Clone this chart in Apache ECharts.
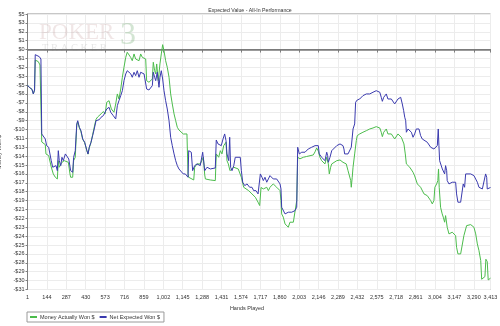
<!DOCTYPE html>
<html>
<head>
<meta charset="utf-8">
<script src="https://cdn.jsdelivr.net/npm/echarts@6/dist/echarts.min.js"></script>
<style>html,body{margin:0;padding:0;background:#fff}#c{width:500px;height:326px}</style>
</head>
<body>
<div id="c"></div>
<script>
// ---- data (hands played, dollars) ----
const moneyHands = [1,14,34,44,53,58,81,93,102,106,117,132,137,157,167,176,191,206,221,228,235,255,272,285,302,314,319,334,341,353,364,371,383,395,408,422,439,447,456,469,481,493,506,518,530,543,560,573,585,602,619,638,651,663,675,688,700,712,725,736,749,761,773,786,798,810,823,835,847,860,872,879,896,909,921,928,938,946,953,965,977,987,997,1007,1019,1031,1044,1056,1068,1081,1093,1105,1117,1130,1149,1176,1184,1189,1201,1226,1233,1243,1250,1274,1287,1297,1307,1312,1348,1385,1392,1410,1422,1434,1447,1459,1464,1471,1481,1493,1521,1532,1554,1567,1577,1594,1606,1631,1655,1680,1700,1712,1722,1739,1751,1764,1776,1788,1801,1812,1825,1837,1849,1862,1869,1874,1886,1899,1911,1923,1935,1948,1960,1972,1985,1992,2009,2034,2058,2083,2107,2120,2132,2144,2156,2169,2181,2193,2206,2218,2225,2235,2243,2255,2280,2304,2313,2326,2338,2350,2363,2375,2383,2387,2394,2400,2412,2424,2431,2449,2461,2473,2486,2498,2510,2523,2535,2547,2560,2571,2584,2597,2608,2616,2626,2633,2645,2657,2682,2694,2707,2719,2731,2744,2756,2768,2775,2785,2793,2805,2818,2830,2842,2854,2866,2874,2886,2898,2910,2923,2935,2947,2960,2972,2984,2996,3003,3016,3025,3030,3035,3045,3057,3065,3075,3082,3094,3107,3119,3131,3144,3156,3163,3173,3193,3205,3217,3230,3237,3247,3267,3279,3291,3304,3316,3328,3341,3348,3360,3372,3379,3389,3396,3409,3413];
const moneyActuallyWon = [-4.6,-4.87,-5.13,-5.73,-5.22,-1.35,-1.57,-1.99,-2.21,-11.93,-12.09,-12.27,-13.47,-13.69,-13.69,-15.15,-16.05,-16.48,-16.7,-14.34,-15.19,-14.55,-14.34,-14.55,-14.55,-16.05,-16.48,-16.48,-14.34,-13.9,-9.8,-9.3,-10.1,-10.6,-11.6,-12.0,-13.1,-13.5,-12.7,-12.0,-11.0,-10.0,-9.0,-8.7,-8.6,-8.3,-8.0,-8.3,-6.8,-6.6,-7.67,-8.09,-7.02,-5.73,-6.38,-5.09,-3.58,-2.29,-1.0,-0.35,-0.22,-1.0,-1.44,-0.57,-1.22,-1.0,-1.44,-0.57,-1.0,-0.79,-1.22,-4.02,-4.22,-4.44,-3.8,-1.64,-2.73,-3.15,-1.86,-4.02,-1.86,-0.57,0.63,-0.15,-1.44,-2.29,-3.58,-5.73,-7.02,-8.31,-9.18,-10.03,-10.38,-10.47,-10.9,-10.89,-16.05,-16.48,-16.7,-16.83,-15.19,-15.41,-14.76,-14.76,-14.98,-13.9,-16.18,-16.7,-16.83,-16.91,-13.47,-13.9,-13.05,-13.47,-12.4,-12.61,-11.96,-14.34,-14.76,-15.63,-15.19,-15.19,-15.41,-15.19,-16.48,-17.77,-17.56,-18.21,-18.63,-19.06,-19.7,-20.13,-17.8,-17.99,-18.21,-17.77,-18.21,-17.77,-17.56,-17.34,-17.56,-17.77,-17.99,-18.21,-19.49,-21.21,-21.63,-22.5,-22.28,-22.93,-22.28,-22.07,-22.28,-22.28,-19.49,-13.9,-14.1,-13.9,-13.8,-13.7,-13.6,-13.2,-12.7,-13.1,-13.9,-14.34,-14.55,-14.76,-13.9,-14.76,-16.05,-15.19,-14.76,-14.55,-14.34,-14.25,-14.34,-14.55,-14.34,-14.76,-15.63,-15.63,-16.91,-17.77,-16.48,-15.19,-13.47,-11.76,-11.11,-10.89,-10.8,-10.67,-10.59,-10.47,-10.38,-10.25,-10.25,-10.12,-10.03,-9.95,-10.03,-10.12,-10.67,-11.24,-10.67,-10.8,-10.25,-10.89,-10.89,-10.98,-11.54,-11.32,-10.89,-11.11,-11.32,-11.54,-12.18,-13.47,-14.76,-14.98,-15.19,-15.41,-15.83,-16.3,-16.48,-17.34,-17.56,-17.77,-17.99,-18.63,-18.85,-18.85,-19.06,-19.49,-19.92,-19.49,-17.77,-17.34,-16.91,-15.41,-17.77,-20.35,-21.21,-21.63,-22.28,-21.43,-22.93,-23.79,-23.79,-23.57,-23.79,-24.01,-25.51,-26.37,-26.37,-26.15,-24.01,-23.79,-22.72,-22.5,-22.59,-22.72,-22.93,-23.79,-25.08,-25.94,-27.23,-29.64,-29.73,-29.3,-27.06,-27.37,-29.73,-29.95,-29.5];

const expectedHands = [1,14,34,44,53,58,71,88,100,106,117,132,142,157,167,176,187,201,211,221,228,235,246,255,265,280,294,305,314,319,334,341,353,364,371,383,395,408,422,439,447,456,469,481,493,506,518,530,543,560,573,585,602,614,633,651,663,675,688,700,712,725,736,749,761,773,786,798,810,823,835,847,860,872,879,896,909,921,928,938,946,957,970,977,987,997,1007,1019,1031,1044,1056,1068,1081,1093,1105,1117,1130,1149,1164,1184,1189,1208,1218,1233,1243,1250,1274,1292,1299,1307,1324,1348,1385,1392,1405,1417,1429,1442,1454,1464,1471,1484,1491,1498,1508,1521,1532,1569,1577,1587,1602,1619,1638,1655,1668,1685,1700,1712,1717,1729,1739,1751,1764,1776,1788,1801,1812,1825,1837,1849,1862,1869,1874,1886,1899,1911,1923,1948,1972,1985,1992,2004,2022,2034,2046,2058,2070,2083,2095,2107,2120,2132,2144,2151,2169,2181,2193,2206,2213,2218,2230,2243,2255,2280,2304,2313,2326,2333,2338,2350,2363,2375,2387,2400,2412,2419,2431,2449,2461,2473,2486,2498,2510,2523,2535,2547,2560,2571,2584,2597,2608,2616,2626,2633,2645,2652,2657,2670,2682,2694,2707,2719,2731,2744,2751,2763,2773,2781,2788,2793,2805,2818,2830,2842,2854,2866,2878,2886,2898,2910,2923,2947,2960,2972,2984,2996,3009,3021,3028,3033,3038,3050,3058,3065,3075,3082,3090,3094,3107,3119,3131,3144,3156,3163,3173,3193,3205,3212,3222,3230,3242,3267,3279,3291,3304,3316,3328,3341,3353,3365,3377,3385,3389,3401,3413];
const netExpectedWon = [-4.6,-4.87,-5.13,-5.73,-5.22,-0.66,-0.48,-0.92,-1.22,-10.89,-11.11,-11.54,-12.4,-12.61,-12.61,-14.34,-15.19,-15.41,-14.98,-15.63,-13.05,-14.34,-14.98,-13.9,-14.34,-13.47,-13.69,-14.12,-14.34,-15.63,-15.83,-13.9,-13.05,-9.6,-9.18,-10.03,-10.47,-11.54,-11.96,-13.05,-13.47,-12.61,-11.96,-11.11,-10.25,-9.18,-8.96,-9.05,-8.74,-8.53,-8.7,-7.67,-7.45,-8.09,-8.53,-8.96,-7.24,-6.6,-5.95,-5.31,-4.02,-3.15,-2.73,-2.93,-3.11,-3.58,-2.93,-3.37,-2.73,-3.58,-2.93,-2.73,-3.15,-3.37,-5.09,-5.22,-5.39,-4.66,-2.93,-3.58,-4.02,-2.93,-4.87,-3.58,-2.73,-3.8,-5.31,-6.6,-7.67,-9.18,-11.32,-12.4,-13.47,-14.34,-14.98,-15.41,-15.63,-16.05,-16.05,-16.48,-13.05,-13.25,-15.63,-14.98,-15.19,-14.76,-14.98,-13.25,-13.47,-15.63,-15.19,-15.41,-15.28,-11.67,-12.18,-11.96,-12.4,-11.54,-10.89,-11.76,-13.47,-14.34,-11.32,-15.19,-15.63,-14.98,-13.9,-13.9,-15.63,-17.12,-17.56,-17.34,-17.77,-17.77,-18.21,-18.21,-18.63,-18.85,-16.05,-16.48,-16.91,-16.48,-17.12,-16.7,-16.27,-16.48,-16.7,-16.91,-16.7,-16.91,-17.34,-17.99,-20.35,-20.57,-21.21,-21.43,-20.99,-20.99,-20.79,-20.35,-12.61,-13.47,-13.25,-13.05,-13.25,-13.05,-12.83,-13.05,-12.61,-12.83,-12.4,-12.18,-12.4,-13.47,-13.9,-14.12,-14.34,-13.25,-13.69,-14.55,-13.9,-13.05,-12.83,-12.4,-12.18,-12.18,-12.4,-12.83,-13.47,-13.69,-13.47,-13.47,-12.61,-10.25,-9.6,-6.8,-6.51,-6.38,-6.16,-5.95,-5.95,-5.73,-5.64,-5.73,-5.64,-5.51,-5.39,-5.31,-5.39,-5.51,-6.16,-6.68,-6.16,-6.38,-5.73,-5.64,-6.38,-6.51,-6.38,-6.6,-7.02,-6.8,-6.38,-6.6,-6.16,-7.02,-7.88,-8.74,-9.18,-10.67,-10.25,-10.47,-10.67,-11.32,-10.89,-10.25,-10.03,-10.25,-11.11,-11.54,-11.76,-11.96,-12.18,-12.61,-12.83,-12.83,-12.61,-12.4,-10.25,-12.4,-14.34,-14.55,-15.41,-15.19,-16.05,-14.98,-15.63,-16.91,-17.34,-17.12,-17.12,-17.34,-17.12,-18.63,-19.7,-19.7,-19.5,-17.34,-17.77,-16.05,-15.97,-16.05,-15.97,-16.27,-16.05,-17.12,-17.77,-17.56,-17.99,-17.77,-16.05,-16.48,-17.99,-18.21,-17.8];

const xTickHands = [1,144,287,430,573,716,859,1002,1145,1288,1431,1574,1717,1860,2003,2146,2289,2432,2575,2718,2861,3004,3147,3290,3413];
const yTickStep = 1.1468;   // axis tick spacing in dollars
const yTickCountBelowZero = 27, yTickCountAboveZero = 4;

const seriesNames = ['Money Actually Won $', 'Net Expected Won $'];
const titleText = 'Expected Value - All-In Performance';

const zip = (a, b) => a.map((h, i) => [h, b[i]]);
const FONT = 'Liberation Sans';
const txt = '#333';

const chart = echarts.init(document.getElementById('c'), null, {renderer: 'canvas'});
chart.setOption({
  animation: false,
  backgroundColor: '#fff',
  textStyle: {fontFamily: FONT},
  title: {
    text: titleText, left: 'center', top: 3,
    textStyle: {fontSize: 5.2, fontWeight: 'normal', color: txt, fontFamily: FONT}
  },
  legend: {
    left: 27, top: 312, orient: 'horizontal',
    padding: [2, 4, 2, 3], itemGap: 5,
    borderColor: '#9a9a9a', borderWidth: 1,
    icon: 'rect', itemWidth: 7, itemHeight: 2,
    textStyle: {fontSize: 5.5, color: txt, fontFamily: FONT, padding: [0, 0, 0, -2]},
    data: seriesNames
  },
  grid: {
    left: 27.5, right: 9.5, top: 14, bottom: 36.5,
    show: true, borderColor: '#8e8e8e', borderWidth: 1,
    outerBoundsMode: 'none', containLabel: false
  },
  graphic: [
    {type: 'text', left: 39, top: 21, z: 1, silent: true,
      style: {text: 'POKER', fontSize: 23, fontFamily: 'Liberation Serif', fill: 'rgba(185,140,140,0.22)'}},
    {type: 'text', left: 42, top: 43, z: 1, silent: true,
      style: {text: 'T R A C K E R', fontSize: 10.5, fontFamily: 'Liberation Serif', fill: 'rgba(140,140,140,0.22)'}},
    {type: 'text', left: 120, top: 20, z: 1, silent: true,
      style: {text: '3', fontSize: 32, fontFamily: 'Liberation Serif', fill: 'rgba(110,170,110,0.3)'}}
  ],
  xAxis: {
    type: 'value', min: 1, max: 3413,
    name: 'Hands Played', nameLocation: 'middle', nameGap: 14,
    nameTextStyle: {fontSize: 5.5, color: txt, fontFamily: FONT, padding: [0, 24, 0, 0]},
    axisLine: {show: true, lineStyle: {color: '#7f7f7f', width: 1}},
    axisTick: {show: true, length: 3, customValues: xTickHands, lineStyle: {color: '#7f7f7f'}},
    axisLabel: {
      customValues: xTickHands, margin: 5, fontSize: 5.5, color: txt, fontFamily: FONT,
      formatter: v => Math.round(v).toLocaleString('en-US'), hideOverlap: false
    },
    splitLine: {show: true, lineStyle: {color: '#ececec', width: 1}}
  },
  yAxis: {
    type: 'value',
    min: -yTickCountBelowZero * yTickStep, max: yTickCountAboveZero * yTickStep, interval: yTickStep,
    name: 'Money Won $', nameLocation: 'middle', nameGap: 17,
    nameTextStyle: {fontSize: 5.5, color: txt, fontFamily: FONT},
    axisLine: {show: true, lineStyle: {color: '#7f7f7f', width: 1}},
    axisTick: {show: true, length: 2, lineStyle: {color: '#7f7f7f'}},
    axisLabel: {
      margin: 3, fontSize: 5.5, color: txt, fontFamily: FONT,
      formatter: v => { const r = Math.round(v); return r === 0 ? '$0' : (r < 0 ? '-$' + (-r) : '$' + r); }
    },
    splitLine: {show: true, lineStyle: {color: '#ececec', width: 1}}
  },
  series: [
    {
      name: seriesNames[0], type: 'line', data: zip(moneyHands, moneyActuallyWon),
      showSymbol: false, symbol: 'none', color: '#4cbc4c',
      lineStyle: {width: 1, color: '#4cbc4c'}, z: 3,
      markLine: {
        silent: true, symbol: ['none', 'none'], label: {show: false},
        lineStyle: {color: '#7a7a7a', width: 1.6, type: 'solid'},
        data: [{yAxis: 0}], z: 2
      }
    },
    {
      name: seriesNames[1], type: 'line', data: zip(expectedHands, netExpectedWon),
      showSymbol: false, symbol: 'none', color: '#3a3aae',
      lineStyle: {width: 1, color: '#3a3aae'}, z: 4
    }
  ]
});
</script>
</body>
</html>
